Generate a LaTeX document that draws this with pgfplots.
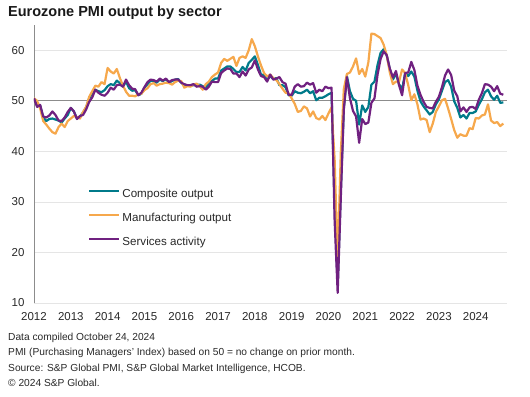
\documentclass[border=0pt]{standalone}
\usepackage{fontspec}
\setmainfont{Liberation Sans}
\usepackage{pgfplots}
\usepackage{pgfplotstable}
\pgfplotsset{compat=1.18}
\definecolor{comp}{RGB}{0,122,138}
\definecolor{manu}{RGB}{246,168,76}
\definecolor{serv}{RGB}{112,33,128}
\definecolor{txt}{RGB}{40,40,40}
% Monthly data, Jan 2012 - Oct 2024: composite output, manufacturing output, services activity
\pgfplotstableread{
c m s
50.4 50.5 50.5
49.3 50.0 48.8
49.1 48.5 49.2
46.7 46.0 46.9
46.0 45.3 46.7
46.4 44.5 47.1
46.5 43.8 47.9
46.3 43.5 47.2
46.1 44.8 46.1
45.7 45.5 46.0
46.5 44.8 46.7
47.2 46.0 47.8
48.6 46.5 48.6
47.9 47.0 47.9
46.5 46.8 46.4
46.9 46.5 47.0
47.7 47.8 47.2
48.7 48.8 48.3
50.5 50.8 49.8
51.5 51.9 50.7
52.2 53.0 52.2
51.9 52.8 51.6
51.7 53.7 51.2
52.1 53.3 51.0
52.9 56.5 51.6
53.3 55.8 52.6
53.1 55.4 52.2
54.0 56.3 53.1
53.5 54.5 53.2
52.8 53.0 52.8
53.8 51.8 54.2
52.5 51.0 53.1
52.0 51.0 52.4
52.1 50.9 52.3
51.1 51.3 51.1
51.4 51.4 51.6
52.6 52.1 52.7
53.3 52.5 53.7
54.0 53.3 54.2
53.9 53.5 54.1
53.6 53.0 53.8
54.2 53.3 54.4
53.9 53.4 54.0
54.3 53.6 54.4
53.6 53.5 53.7
53.9 53.2 54.1
54.2 53.7 54.2
54.3 54.0 54.2
53.6 53.9 53.6
53.0 52.6 53.3
53.1 52.9 53.1
53.0 52.8 53.1
53.1 53.2 53.3
53.1 53.4 52.8
53.2 52.9 52.9
52.9 52.2 52.8
52.6 53.3 52.2
53.3 53.8 52.8
53.9 54.7 53.8
54.4 55.2 53.7
54.4 55.6 53.7
56.0 57.5 55.5
56.4 58.3 56.0
56.8 57.9 56.4
56.8 58.3 56.3
56.3 58.7 55.4
55.7 56.9 55.4
55.7 58.5 54.7
56.7 58.8 55.8
56.0 58.5 55.0
57.5 60.0 56.2
58.1 62.2 56.6
58.8 60.8 58.0
57.1 58.8 56.2
55.2 57.0 54.9
55.1 55.5 54.7
54.1 54.8 53.8
54.9 55.2 55.2
54.3 54.5 54.2
54.5 54.1 54.4
53.1 53.3 54.7
53.1 52.4 53.7
52.7 51.6 53.4
51.1 51.5 51.2
51.0 50.5 51.2
51.9 49.4 52.8
51.6 47.8 53.3
51.5 48.0 52.8
51.8 48.9 52.9
52.2 48.5 53.6
51.5 46.9 53.2
51.9 47.9 53.5
50.1 46.6 51.6
50.6 46.3 52.2
50.6 47.0 51.9
50.9 46.2 52.8
51.3 47.5 52.5
51.6 48.7 52.6
29.7 38.5 26.4
13.6 18.1 12.0
31.9 39.4 30.5
48.5 52.3 48.3
54.9 55.3 54.7
51.9 55.6 50.5
50.4 56.8 48.0
50.0 58.4 46.9
45.3 55.3 41.7
49.1 56.3 46.4
47.8 54.8 45.4
48.8 57.6 45.7
53.2 63.3 49.6
53.8 63.2 50.5
57.1 62.8 55.2
59.5 62.4 58.3
60.2 61.1 59.8
59.0 59.0 59.0
56.2 55.6 56.4
54.2 53.3 54.6
55.4 53.8 55.9
53.3 53.8 53.1
52.3 56.2 51.1
55.5 55.5 55.5
54.9 53.1 55.6
55.8 50.1 57.7
54.8 51.3 56.1
52.0 49.3 53.0
49.9 46.3 51.2
48.9 46.5 49.8
48.1 46.2 48.8
47.3 43.8 48.6
47.8 45.5 48.5
49.3 47.8 49.8
50.3 48.9 50.8
52.0 50.1 52.7
53.7 50.4 55.0
54.1 48.5 56.2
52.8 46.4 55.1
49.9 44.2 52.0
48.6 42.7 50.9
46.7 43.4 47.9
47.2 43.1 48.7
46.5 43.1 47.8
47.6 44.6 48.7
47.6 44.4 48.8
47.9 46.6 48.4
49.2 46.5 50.2
50.3 47.1 51.5
51.7 47.3 53.3
52.2 49.3 53.2
50.9 46.1 52.8
50.2 45.6 51.9
51.0 45.8 52.9
49.6 45.0 51.4
49.7 45.5 51.2
}\pmi

\begin{document}
\begin{tikzpicture}
\path[use as bounding box] (0,0) rectangle (530bp,397bp);
\node[anchor=base west, inner sep=0, text=black!90,
      font=\fontsize{14.5bp}{17bp}\selectfont\bfseries] at (8bp,380bp) {Eurozone PMI output by sector};
\begin{axis}[
  at={(34bp,94bp)}, anchor=south west,
  scale only axis, width=473bp, height=278bp,
  xmin=0, xmax=154.2, ymin=10, ymax=65,
  axis line style={draw=none},
  xtick={0,12,...,144},
  xticklabels={2012,2013,2014,2015,2016,2017,2018,2019,2020,2021,2022,2023,2024},
  ytick={10,20,...,60},
  major tick length=0pt,
  ymajorgrids,
  grid style={draw=black!10, line width=0.7bp},
  extra x ticks={0}, extra x tick labels={},
  extra x tick style={xmajorgrids=true, grid style={draw=black!45, line width=0.9bp}},
  extra y ticks={50}, extra y tick labels={},
  extra y tick style={ymajorgrids=true, grid style={draw=black!45, line width=0.9bp}},
  /pgf/number format/assume math mode=true,
  tick label style={font=\fontsize{11.5bp}{13bp}\selectfont, text=txt},
  yticklabel style={xshift=-6bp},
  xticklabel style={yshift=-6bp},
  legend cell align=left,
  legend style={at={(0.1142,0.4137)}, anchor=north west, draw=none, fill=none,
    inner sep=0pt, row sep=12bp, column sep=2bp,
    font=\fontsize{11.6bp}{13bp}\selectfont, text=txt,
    nodes={inner sep=0pt, text height=9bp, text depth=3bp}},
  legend image code/.code={\draw[#1] (0bp,3.5bp) -- (30bp,3.5bp);},
  every axis plot/.append style={line width=2.2bp, line join=round},
]
\addplot[comp] table[x expr=\coordindex, y=c] {\pmi};
\addlegendentry{Composite output}
\addplot[manu] table[x expr=\coordindex, y=m] {\pmi};
\addlegendentry{Manufacturing output}
\addplot[serv] table[x expr=\coordindex, y=s] {\pmi};
\addlegendentry{Services activity}
\end{axis}
\begin{scope}[every node/.style={anchor=base west, inner sep=0, text=txt, font=\fontsize{10.2bp}{12bp}\selectfont}]
\node at (8bp,56bp) {Data compiled October 24, 2024};
\node at (8bp,41bp) {PMI (Purchasing Managers' Index) based on 50 = no change on prior month.};
\node at (8bp,26bp) {Source: S\&P Global PMI, S\&P Global Market Intelligence, HCOB.};
\node at (8bp,11bp) {© 2024 S\&P Global.};
\end{scope}
\end{tikzpicture}
\end{document}
